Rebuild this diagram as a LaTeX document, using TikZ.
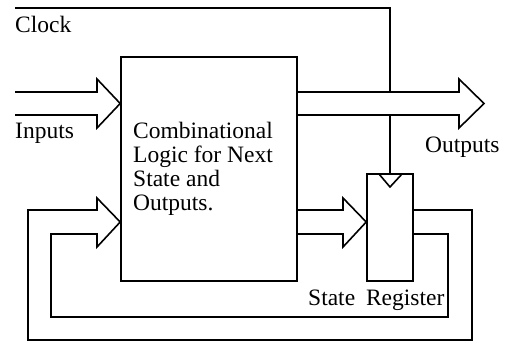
\documentclass[tikz,border=0pt]{standalone}
\usepackage{fontspec}
\setmainfont{Liberation Serif}
\begin{document}
\begin{tikzpicture}[x=1pt,y=-1pt,
  wire/.style={line width=1.6pt,line join=miter},
  blk/.style={draw,line width=1.6pt,rectangle,inner sep=0pt},
  lbl/.style={inner sep=0pt,anchor=base west,font=\fontsize{23.5}{24}\selectfont}]
\useasboundingbox (0,0) rectangle (510,342);
% blocks
\node[blk,minimum width=176pt,minimum height=224pt] (comb) at (209,169) {};
\node[blk,minimum width=46pt,minimum height=107pt] (reg) at (390,227.5) {};
% key coordinates
\coordinate (clk0) at (15,8);
\coordinate (clkc) at (390,8);
\coordinate (clkin) at (reg.north);
\coordinate (in0) at (15,92);
\coordinate (in1) at (15,115);
\coordinate (outtip) at (484,103.5);
% labels
\node[lbl] (lclock) at (15,33) {Clock};
\node[lbl] (linputs) at (15,138) {Inputs};
\node[lbl] (loutputs) at (425,152) {Outputs};
\node[lbl] (lstate) at (308,305) {State\hspace{5pt} Register};
\node[lbl,align=left] (ltext) at (133,210) {Combinational\\Logic for Next\\State and\\Outputs.};
% Inputs arrow
\draw[wire] (in0) -- (97,92) -- (97,79) -- (comb.west |- 0,103.5) -- (97,128) -- (97,115) -- (in1);
% Outputs arrow
\draw[wire] (comb.east |- 0,92) -- (459,92) -- (459,79) -- (outtip) -- (459,128) -- (459,115) -- (comb.east |- 0,115);
% Clock
\draw[wire] (clk0) -- (clkc) -- (390,92);
\draw[wire] (390,115) -- (clkin);
\draw[wire] (379,174) -- (390,187) -- (402,174);
% next-state arrow into register
\draw[wire] (comb.east |- 0,210) -- (343,210) -- (343,198) -- (reg.west |- 0,222) -- (343,247) -- (343,234) -- (comb.east |- 0,234);
% feedback
\draw[wire] (reg.east |- 0,210) -- (472,210) -- (472,340) -- (28,340) -- (28,210) -- (97,210) -- (97,198)
  -- (comb.west |- 0,222) -- (97,247) -- (97,234) -- (51,234) -- (51,317) -- (448,317) -- (448,234) -- (reg.east |- 0,234);
\end{tikzpicture}
\end{document}
